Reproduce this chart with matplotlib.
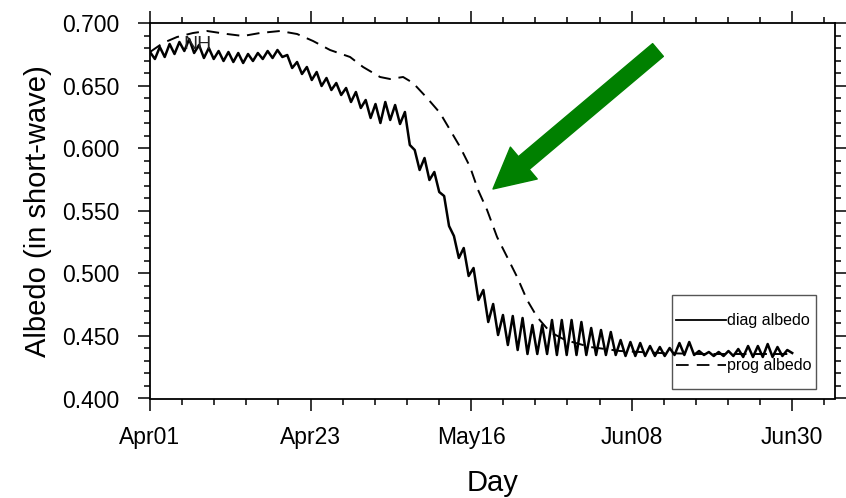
import matplotlib
matplotlib.use("Agg")
import matplotlib.pyplot as plt
import matplotlib.patches as mpatches
import numpy as np
from matplotlib.ticker import FixedLocator, MultipleLocator, FormatStrFormatter

plt.rcParams["font.family"] = ["Liberation Sans", "DejaVu Sans"]

# diagnosed albedo, sampled at every half diurnal swing (peaks and troughs), Apr01 -> Jun30
DIAG_ALBEDO = [
    0.6772, 0.6716, 0.6812, 0.6732, 0.6836, 0.6756, 0.6852, 0.6780, 0.6876, 0.6764,
    0.6828, 0.6724, 0.6804, 0.6716, 0.6780, 0.6700, 0.6772, 0.6692, 0.6764, 0.6684,
    0.6756, 0.6700, 0.6764, 0.6716, 0.6780, 0.6724, 0.6788, 0.6732, 0.6748, 0.6644,
    0.6692, 0.6596, 0.6652, 0.6548, 0.6612, 0.6500, 0.6564, 0.6468, 0.6524, 0.6428,
    0.6484, 0.6372, 0.6452, 0.6324, 0.6388, 0.6244, 0.6356, 0.6204, 0.6372, 0.6228,
    0.6348, 0.6196, 0.6292, 0.6028, 0.5988, 0.5828, 0.5924, 0.5748, 0.5812, 0.5652,
    0.5620, 0.5380, 0.5300, 0.5124, 0.5204, 0.4980, 0.5044, 0.4788, 0.4868, 0.4612,
    0.4756, 0.4508, 0.4668, 0.4428, 0.4660, 0.4388, 0.4644, 0.4356, 0.4588, 0.4356,
    0.4588, 0.4356, 0.4628, 0.4348, 0.4628, 0.4348, 0.4628, 0.4348, 0.4612, 0.4348,
    0.4564, 0.4348, 0.4548, 0.4348, 0.4532, 0.4348, 0.4468, 0.4340, 0.4452, 0.4340,
    0.4444, 0.4340, 0.4420, 0.4340, 0.4412, 0.4340, 0.4404, 0.4348, 0.4444, 0.4348,
    0.4452, 0.4348, 0.4380, 0.4348, 0.4372, 0.4340, 0.4372, 0.4340, 0.4380, 0.4340,
    0.4396, 0.4332, 0.4420, 0.4332, 0.4420, 0.4332, 0.4436, 0.4332, 0.4412, 0.4340,
    0.4388, 0.4364,
]
N_DAYS = 90.0

# prognostic albedo (smooth)
PROG_DAY = [0.0, 1.82, 3.79, 6.03, 7.99, 10.79, 13.04, 15.42, 18.22, 20.61,
            22.85, 25.23, 28.04, 29.86, 32.24, 33.64, 35.47, 36.87, 38.83, 40.65,
            42.06, 43.46, 44.86, 45.98, 47.24, 48.64, 50.05, 51.45, 52.85, 54.25,
            56.07, 58.18, 61.68, 65.89, 71.50, 77.10, 84.11, 90.0]
PROG_ALBEDO = [0.6772, 0.6844, 0.6892, 0.6924, 0.6940, 0.6916, 0.6900, 0.6924, 0.6940, 0.6916,
               0.6860, 0.6788, 0.6732, 0.6652, 0.6572, 0.6556, 0.6572, 0.6524, 0.6404, 0.6284,
               0.6148, 0.6012, 0.5852, 0.5668, 0.5508, 0.5292, 0.5132, 0.4972, 0.4788, 0.4652,
               0.4532, 0.4468, 0.4412, 0.4380, 0.4364, 0.4356, 0.4356, 0.4356]

TICK_DAYS = [0, 22.5, 45, 67.5, 90]
TICK_LABELS = ["Apr01", "Apr23", "May16", "Jun08", "Jun30"]

diag_day = np.linspace(0, N_DAYS, len(DIAG_ALBEDO))

fig = plt.figure(figsize=(8.46, 4.98), dpi=100)
ax = fig.add_axes([150 / 846, 99.5 / 498, 685 / 846, 375 / 498])

ax.plot(diag_day, DIAG_ALBEDO, color="black", linewidth=1.8, solid_joinstyle="round")
ax.plot(PROG_DAY, PROG_ALBEDO, color="black", linewidth=1.4, linestyle=(0, (6.5, 4)))

ax.set_xlim(0, 96)
ax.set_ylim(0.4, 0.7)
ax.xaxis.set_major_locator(FixedLocator(TICK_DAYS))
ax.set_xticklabels(TICK_LABELS)
ax.xaxis.set_minor_locator(MultipleLocator(4.5))
ax.yaxis.set_major_locator(MultipleLocator(0.05))
ax.yaxis.set_minor_locator(MultipleLocator(0.01))
ax.yaxis.set_major_formatter(FormatStrFormatter("%.3f"))

ax.tick_params(which="both", direction="out", top=True, right=True, width=1.1)
ax.tick_params(which="major", length=8.6, labelsize=16.5)
ax.tick_params(which="minor", length=4.5)
ax.tick_params(axis="y", which="major", pad=13.5)
ax.tick_params(axis="x", which="major", pad=11.5)
for spine in ax.spines.values():
    spine.set_linewidth(1.3)

ax.set_xlabel("Day", fontsize=21)
ax.xaxis.set_label_coords(0.5, -0.224)
ax.xaxis.label.set_va("center")
ax.set_ylabel("Albedo (in short-wave)", fontsize=21)
ax.yaxis.set_label_coords(-0.1635, 0.5)
ax.yaxis.label.set_va("center")

ax.text(0.048, 0.944, "NH", transform=ax.transAxes, fontsize=14, color="#222222",
        ha="left", va="center")

# legend box, drawn by hand to match the tall NCL legend
ax.add_patch(mpatches.Rectangle((0.762, 0.025), 0.21, 0.251, transform=ax.transAxes,
                                fill=False, edgecolor="#555555", linewidth=1.0))
ax.plot([0.768, 0.841], [0.209, 0.209], transform=ax.transAxes, color="black", linewidth=1.3)
ax.plot([0.768, 0.841], [0.089, 0.089], transform=ax.transAxes, color="black", linewidth=1.3,
        linestyle=(0, (7, 4.5)))
ax.text(0.842, 0.209, "diag albedo", transform=ax.transAxes, fontsize=11.5, ha="left", va="center")
ax.text(0.842, 0.089, "prog albedo", transform=ax.transAxes, fontsize=11.5, ha="left", va="center")

# green arrow pointing at the prognostic curve
ax.annotate("", xy=(493, 498 - 189), xycoords="figure pixels",
            xytext=(658, 498 - 50), textcoords="figure pixels",
            arrowprops=dict(arrowstyle="simple,head_length=2.9,head_width=3.0,tail_width=1.2",
                            mutation_scale=10, color="#008000", shrinkA=0, shrinkB=0))

fig.savefig("out.png", dpi=100)
